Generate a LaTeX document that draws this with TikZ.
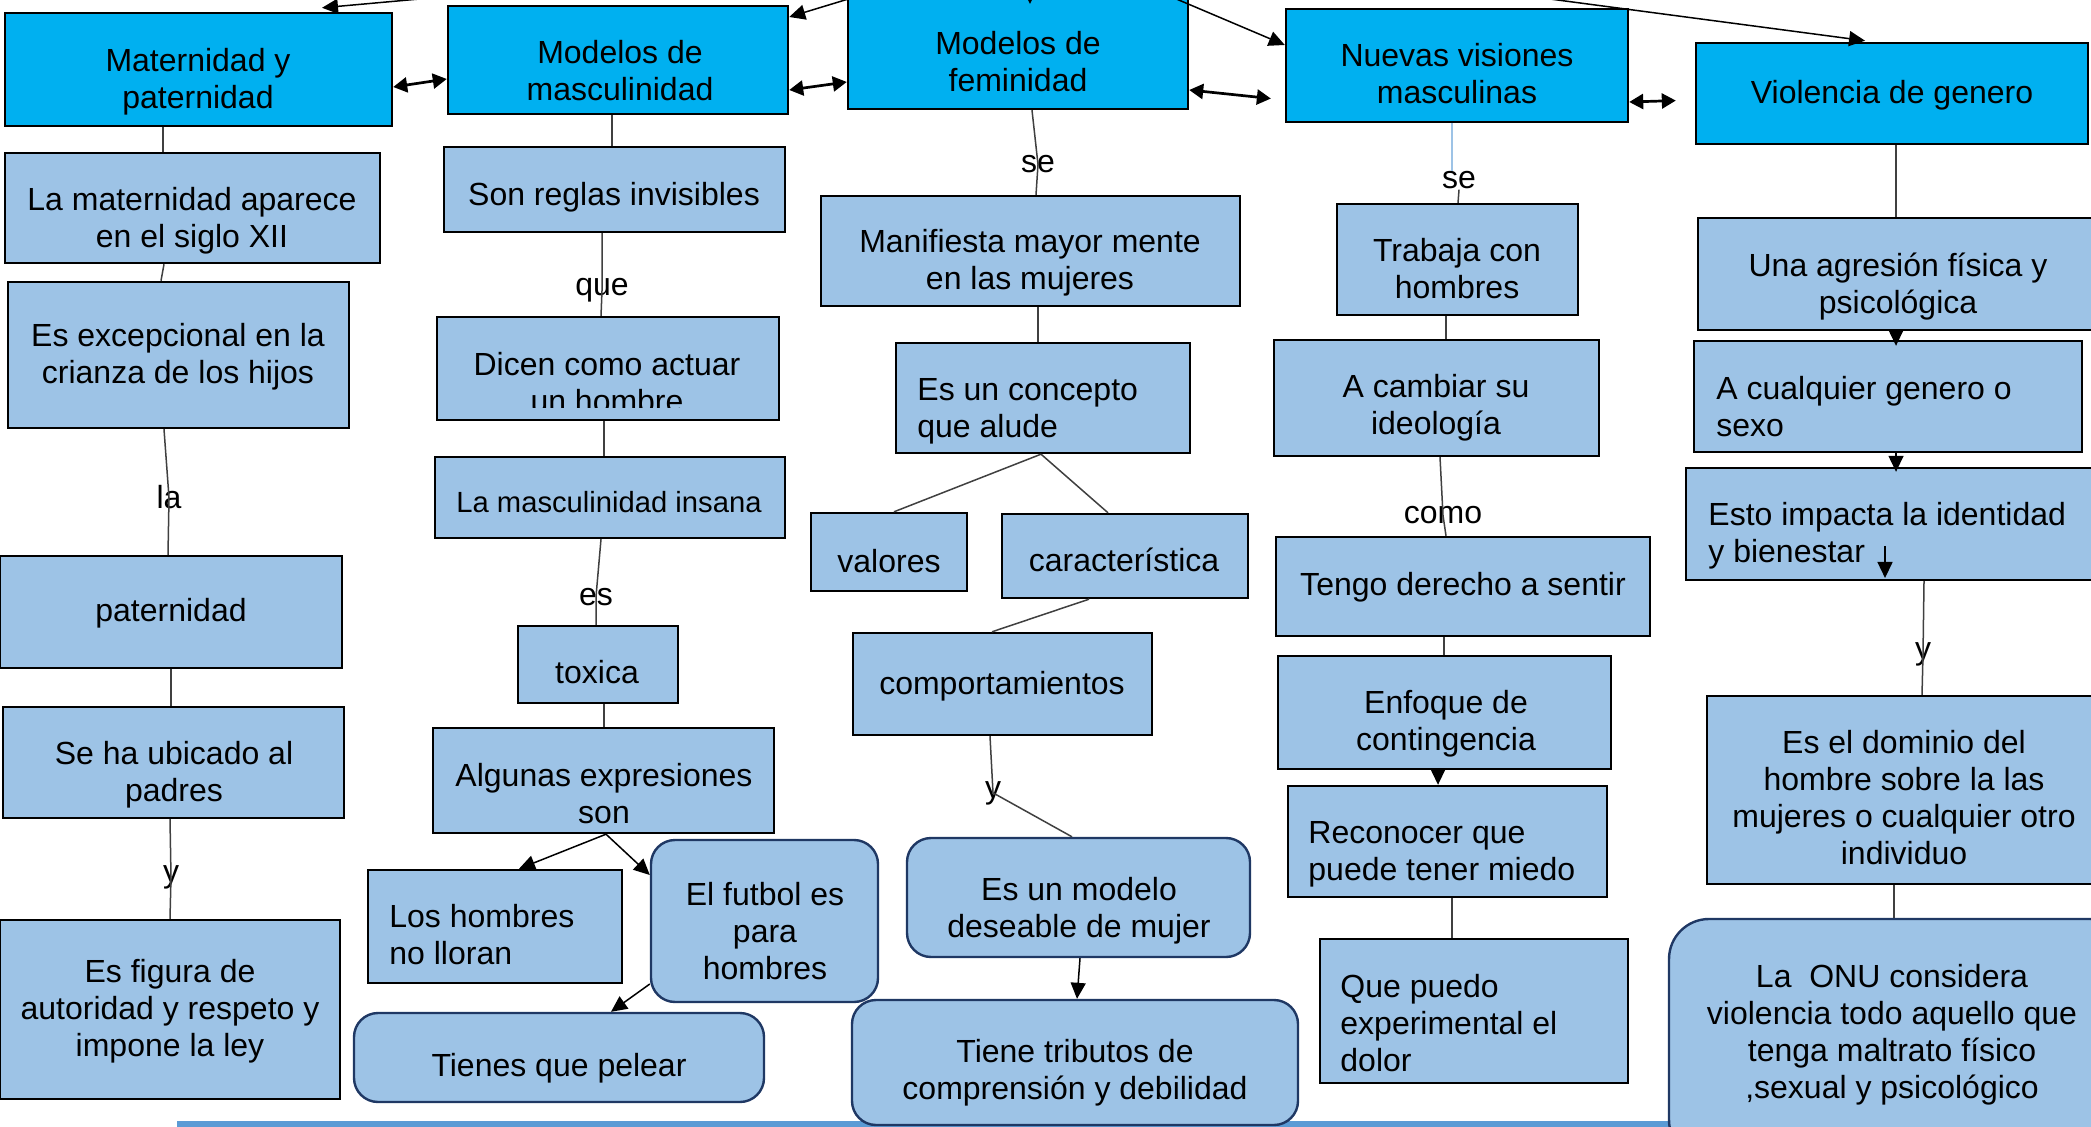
\documentclass[tikz,border=0pt]{standalone}
\usepackage{fontspec}
\setmainfont{Liberation Sans}
\usetikzlibrary{arrows.meta}
\definecolor{hdrblue}{HTML}{00B0F0}
\definecolor{lightblue}{HTML}{9DC3E6}
\definecolor{navyb}{HTML}{1F3864}
\definecolor{connc}{HTML}{404040}
\definecolor{linkblue}{HTML}{9DC3E6}
\definecolor{baseblue}{HTML}{5B9BD5}
\newcommand{\mainsz}{\fontsize{16pt}{18.5pt}\selectfont}
\newcommand{\smallsz}{\fontsize{14.6pt}{17pt}\selectfont}
\newcommand{\mkframe}[6]{%
  \pgfmathsetmacro\bxcx{(#3+#5)/2}%
  \pgfmathsetmacro\bxcy{(#4+#6)/2}%
  \pgfmathsetmacro\bxw{abs(#5-#3)*0.5}%
  \pgfmathsetmacro\bxh{abs(#6-#4)*0.5}%
  \node[#2, minimum width=\bxw pt, minimum height=\bxh pt] (#1) at (\bxcx,\bxcy) {};%
}
\tikzset{
  hdr/.style={rectangle, draw=black, line width=1.2pt, fill=hdrblue, inner sep=0pt},
  bxs/.style={rectangle, draw=black, line width=1.2pt, fill=lightblue, inner sep=0pt},
  rbx/.style={rectangle, draw=navyb, line width=1.2pt, fill=lightblue, rounded corners=12pt, inner sep=0pt},
  txtc/.style={align=center, inner sep=0pt, font=\mainsz},
  txtl/.style={align=left, anchor=west, inner sep=0pt, font=\mainsz},
  lbl/.style={inner sep=0pt, anchor=base, font=\mainsz},
  conn/.style={draw=connc, line width=0.75pt},
  connlb/.style={draw=linkblue, line width=0.75pt},
  arr/.style={draw=black, line width=0.75pt, -{Triangle[length=8pt,width=7.5pt]}},
  dbl/.style={draw=black, line width=1.35pt, {Triangle[length=7pt,width=7.5pt]}-{Triangle[length=7pt,width=7.5pt]}},
}
\begin{document}
\begin{tikzpicture}[x=0.5pt, y=-0.5pt]
\useasboundingbox (0,0) rectangle (2091,1127);
\clip (0,0) rectangle (2091,1127);
\fill[white] (0,0) rectangle (2091,1127);
% bottom rule
\fill[baseblue] (177,1121) rectangle (2091,1127);

% ---------- header boxes
\mkframe{mat}{hdr}{5}{13}{392}{126}
\mkframe{masc}{hdr}{448}{6}{788}{114}
\mkframe{fem}{hdr}{848}{-5}{1188}{109}
\mkframe{nuev}{hdr}{1286}{9}{1628}{122}
\mkframe{viol}{hdr}{1696}{43}{2088}{144}
\node[txtc] (mat-t) at (198,82) {Maternidad y\\paternidad};
\node[txtc] (masc-t) at (620,71) {Modelos de\\masculinidad};
\node[txtc] (fem-t) at (1018,62) {Modelos de\\feminidad};
\node[txtc] (nuev-t) at (1457,74) {Nuevas visiones\\masculinas};
\node[txtc] (viol-t) at (1892,95) {Violencia de genero};

% ---------- column 1
\mkframe{matap}{bxs}{5}{153}{380}{263}
\mkframe{exc}{bxs}{8}{282}{349}{428}
\mkframe{pat}{bxs}{0}{556}{342}{668}
\mkframe{seha}{bxs}{3}{707}{344}{818}
\mkframe{fig}{bxs}{0}{920}{340}{1099}
\node[txtc] (matap-t) at (192,221) {La maternidad aparece\\en el siglo XII};
\node[txtc] (exc-t) at (178,357) {Es excepcional en la\\crianza de los hijos};
\node[txtc] (pat-t) at (171,613) {paternidad};
\node[txtc] (seha-t) at (174,775) {Se ha ubicado al\\padres};
\node[txtc] (fig-t) at (170,1011) {Es figura de\\autoridad y respeto y\\impone la ley};

% ---------- column 2
\mkframe{reg}{bxs}{444}{147}{785}{232}
\mkframe{dic}{bxs}{437}{317}{779}{420}
\mkframe{ins}{bxs}{435}{457}{785}{538}
\mkframe{tox}{bxs}{518}{626}{678}{703}
\mkframe{alg}{bxs}{433}{728}{774}{833}
\mkframe{llo}{bxs}{368}{870}{622}{983}
\mkframe{fut}{rbx}{651}{840}{878}{1002}
\mkframe{pel}{rbx}{354}{1013}{764}{1102}
\node[txtc] (reg-t) at (614,197) {Son reglas invisibles};
\begin{scope}
\clip (437,317) rectangle (779,408);
\node[txtc] (dic-t) at (607,383) {Dicen como actuar\\un hombre};
\end{scope}
\node[txtc, font=\smallsz] (ins-t) at (609,502) {La masculinidad insana};
\node[txtc] (tox-t) at (597,672) {toxica};
\node[txtc] (alg-t) at (604,794) {Algunas expresiones\\son};
\node[txtl] (llo-t) at (389,935) {Los hombres\\no lloran};
\node[txtc] (fut-t) at (765,931) {El futbol es\\para\\hombres};
\node[txtc] (pel-t) at (559,1068) {Tienes que pelear};

% ---------- column 3
\mkframe{man}{bxs}{821}{196}{1240}{306}
\mkframe{con}{bxs}{896}{343}{1190}{453}
\mkframe{val}{bxs}{811}{513}{967}{591}
\mkframe{car}{bxs}{1002}{514}{1248}{598}
\mkframe{com}{bxs}{853}{633}{1152}{735}
\mkframe{mod}{rbx}{907}{838}{1250}{957}
\mkframe{tri}{rbx}{852}{1000}{1298}{1125}
\node[txtc] (man-t) at (1030,263) {Manifiesta mayor mente\\en las mujeres};
\node[txtl] (con-t) at (917,411) {Es un concepto\\que alude};
\node[txtc] (val-t) at (889,561) {valores};
\node[txtc] (car-t) at (1124,560) {característica};
\node[txtc] (com-t) at (1002,686) {comportamientos};
\node[txtc] (mod-t) at (1079,911) {Es un modelo\\deseable de mujer};
\node[txtc] (tri-t) at (1075,1073) {Tiene tributos de\\comprensión y debilidad};

% ---------- column 4
\mkframe{tra}{bxs}{1337}{204}{1578}{315}
\mkframe{cam}{bxs}{1274}{340}{1599}{456}
\mkframe{ten}{bxs}{1276}{537}{1650}{636}
\mkframe{enf}{bxs}{1278}{656}{1611}{769}
\mkframe{rec}{bxs}{1288}{786}{1607}{897}
\mkframe{qpu}{bxs}{1320}{939}{1628}{1083}
\node[txtc] (tra-t) at (1457,269) {Trabaja con\\hombres};
\node[txtc] (cam-t) at (1436,408) {A cambiar su\\ideología};
\node[txtc] (ten-t) at (1463,587) {Tengo derecho a sentir};
\node[txtc] (enf-t) at (1446,724) {Enfoque de\\contingencia};
\node[txtl] (rec-t) at (1308,854) {Reconocer que\\puede tener miedo};
\node[txtl] (qpu-t) at (1340,1023) {Que puedo\\experimental el\\dolor};

% ---------- column 5
\mkframe{agr}{bxs}{1698}{218}{2110}{330}
\mkframe{cua}{bxs}{1694}{341}{2082}{452}
\mkframe{est}{bxs}{1686}{468}{2110}{580}
\mkframe{dom}{bxs}{1707}{696}{2110}{884}
\mkframe{onu}{rbx, rounded corners=20pt}{1669}{919}{2130}{1160}
\node[txtc] (agr-t) at (1898,287) {Una agresión física y\\psicológica};
\node[txtl] (cua-t) at (1716,407) {A cualquier genero o\\sexo};
\node[txtl] (est-t) at (1708,536) {Esto impacta la identidad\\y bienestar};
\node[txtc] (dom-t) at (1904,798) {Es el dominio del\\hombre sobre la las\\mujeres o cualquier otro\\individuo};
\node[txtc] (onu-t) at (1892,1035) {La\ \ ONU considera\\violencia todo aquello que\\tenga maltrato físico\\,sexual y psicológico};

% ---------- labels
\node[lbl] (l-la) at (169,509) {la};
\node[lbl] (l-y1) at (171,882) {y};
\node[lbl] (l-que) at (602,296) {que};
\node[lbl] (l-es) at (596,605) {es};
\node[lbl] (l-se1) at (1038,173) {se};
\node[lbl] (l-y2) at (993,798) {y};
\node[lbl] (l-se2) at (1459,189) {se};
\node[lbl] (l-como) at (1443,524) {como};
\node[lbl] (l-y3) at (1923,659) {y};

% ---------- connectors column 1
\draw[conn] (mat.south -| 163,0) -- (matap.north -| 163,0);
\draw[conn] (matap.south -| 164,0) -- (exc.north -| 161,0);
\draw[conn] (exc.south -| 164,0) -- (l-la.center) -- (pat.north -| 168,0);
\draw[conn] (pat.south -| 171,0) -- (seha.north -| 171,0);
\draw[conn] (seha.south -| 170,0) -- (l-y1.center) -- (fig.north -| 170,0);

% column 2
\draw[conn] (masc.south -| 612,0) -- (reg.north -| 612,0);
\draw[conn] (reg.south -| 602,0) -- (l-que.center) -- (dic.north -| 601,0);
\draw[conn] (dic.south -| 604,0) -- (ins.north -| 604,0);
\draw[conn] (ins.south -| 601,0) -- (l-es.center) -- (tox.north -| 596,0);
\draw[conn] (tox.south -| 604,0) -- (alg.north -| 604,0);
\draw[arr] (alg.south -| 606,0) -- (llo.north -| 519,0);
\draw[arr] (alg.south -| 606,0) -- (fut.west |- 0,875);
\draw[arr] (fut.west |- 0,984) -- (pel.north -| 611,0);

% column 3
\draw[conn] (fem.south -| 1032,0) -- (l-se1.center) -- (man.north -| 1036,0);
\draw[conn] (man.south -| 1038,0) -- (con.north -| 1038,0);
\draw[conn] (con.south -| 1041,0) -- (val.north -| 894,0);
\draw[conn] (con.south -| 1041,0) -- (car.north -| 1108,0);
\draw[conn] (car.south -| 1089,0) -- (com.north -| 992,0);
\draw[conn] (com.south -| 990,0) -- (l-y2.center) -- (mod.north -| 1072,0);
\draw[arr] (mod.south -| 1080,0) -- (tri.north -| 1077,0);

% column 4
\draw[connlb] (nuev.south -| 1452,0) -- (l-se2.north -| 1452,0);
\draw[conn] (l-se2.south) -- (tra.north -| 1458,0);
\draw[conn] (tra.south -| 1446,0) -- (cam.north -| 1446,0);
\draw[conn] (cam.south -| 1440,0) -- (l-como.center) -- (ten.north -| 1446,0);
\draw[conn] (ten.south -| 1444,0) -- (enf.north -| 1444,0);
\draw[arr] (enf.south -| 1438,0) -- (rec.north -| 1438,0);
\draw[conn] (rec.south -| 1452,0) -- (qpu.north -| 1452,0);

% column 5
\draw[conn] (viol.south -| 1896,0) -- (agr.north -| 1896,0);
\draw[arr] (agr.south -| 1896,0) -- ([yshift=-3pt]cua.north -| 1896,0);
\draw[arr] (cua.south -| 1896,0) -- ([yshift=-2.5pt]est.north -| 1896,0);
\draw[conn] (est.south -| 1924,0) -- (l-y3.center) -- (dom.north -| 1922,0);
\draw[conn] (dom.south -| 1894,0) -- (onu.north -| 1894,0);
\coordinate (esA) at (1885,546);
\coordinate (esB) at (1885,578);
\draw[arr] (esA) -- (esB);

% ---------- header links
\draw[dbl] (mat.east |- 0,87) -- (masc.west |- 0,79);
\draw[dbl] (masc.east |- 0,90) -- (fem.west |- 0,82);
\draw[dbl, shorten >=7pt] (fem.east |- 0,90) -- (nuev.west |- 0,100);
\draw[dbl, shorten >=9.5pt] (nuev.east |- 0,102) -- (viol.west |- 0,100);

% ---------- links from the root above the page
\coordinate (root1) at (586,-16);
\coordinate (root2) at (901,-17);
\coordinate (root3) at (1030,-30);
\coordinate (femtip) at (1030,4);
\coordinate (root4) at (1108,-30);
\coordinate (root5) at (1331,-30);
\draw[arr] (root1) -- ([yshift=2pt]mat.north -| 322,0);
\draw[arr] (root2) -- (masc.east |- 0,17);
\draw[arr] (root3) -- (femtip);
\draw[arr] (root4) -- (nuev.west |- 0,45);
\draw[arr, shorten >=4pt] (root5) -- (viol.north -| 1873,0);
\end{tikzpicture}
\end{document}
